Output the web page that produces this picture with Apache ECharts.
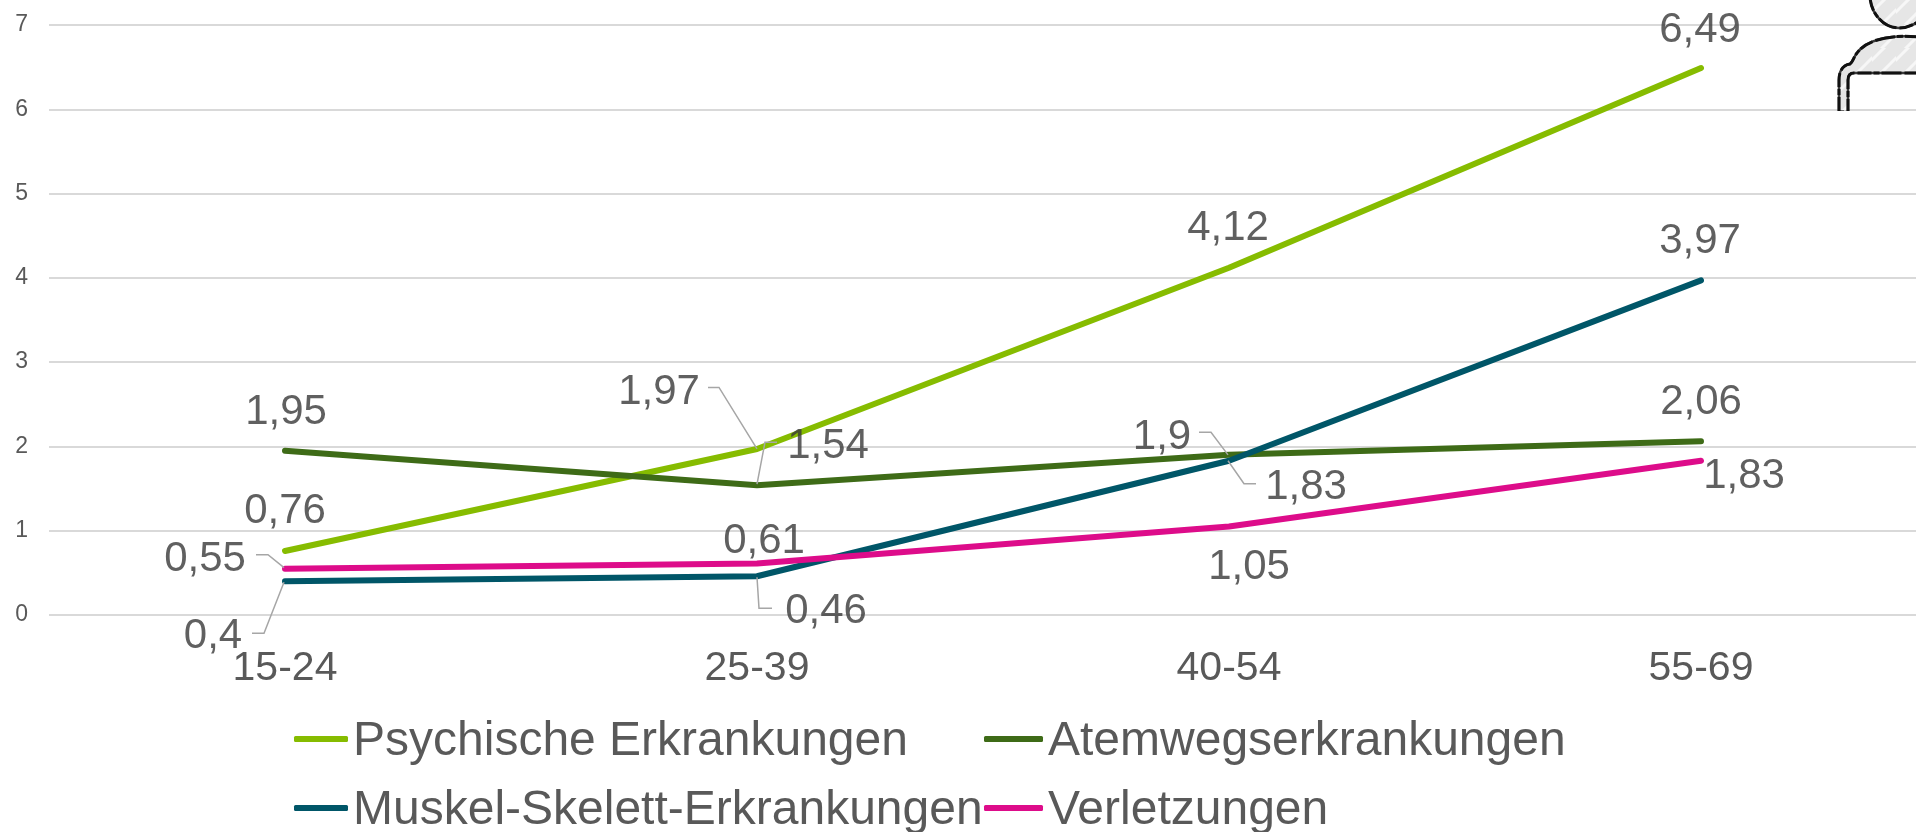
<!DOCTYPE html>
<html>
<head>
<meta charset="utf-8">
<style>html,body{margin:0;padding:0;background:#fff}#chart{width:1916px;height:832px}</style>
<script src="https://cdn.jsdelivr.net/npm/echarts@6/dist/echarts.min.js"></script>
</head>
<body>
<div id="chart"></div>
<script>
const categories = ['15-24', '25-39', '40-54', '55-69'];
const seriesNames = ['Psychische Erkrankungen', 'Atemwegserkrankungen', 'Muskel-Skelett-Erkrankungen', 'Verletzungen'];
const psychische = [0.76, 1.97, 4.12, 6.49];
const atemwege = [1.95, 1.54, 1.9, 2.06];
const muskel = [0.4, 0.46, 1.83, 3.97];
const verletzungen = [0.55, 0.61, 1.05, 1.83];
const seriesColors = ['#86bc00', '#3e6b17', '#005668', '#dd0c8a'];

// Label offsets in pixels from each point's centre, per series and category.
const labelOffsets = [
  [[0, -39.5], [-98, -57], [-1, -39], [-1, -38]],
  [[1, -38.5], [71, -38.5], [-67, -17.5], [0, -38.5]],
  [[-72, 55.5], [69, 35.5], [77, 26.5], [-1, -39]],
  [[-80, -9.5], [7, -22], [20, 40.5], [43, 15.5]]
];
// Leader polylines as pixel offsets from the point; null where a label has none.
const leaderPaths = [
  [null, [[0, 0], [-38, -61.5], [-49, -61.5]], null, null],
  [null, [[0, -1], [8, -43], [20, -43]], [[-1, 0], [-18, -22.5], [-30, -22.5]], null],
  [[[-1, 1], [-21, 52], [-33, 52]], [[0, 1], [2, 32], [15, 32]], [[-1, 0], [15, 23], [27, 23]], null],
  [[[-1, -1], [-17, -14], [-29, -14]], null, null, null]
];
const allValues = [psychische, atemwege, muskel, verletzungen];

const chart = echarts.init(document.getElementById('chart'));

const lineSeries = seriesNames.map((name, s) => ({
  name,
  type: 'line',
  data: allValues[s],
  symbol: 'none',
  z: 3,
  lineStyle: { color: seriesColors[s], width: 6, cap: 'round', join: 'round' },
  itemStyle: { color: seriesColors[s] }
}));

// Value labels sit on invisible scatter points so each can carry its own offset.
const labelSeries = seriesNames.map((name, s) => ({
  name: name + ' Werte',
  type: 'scatter',
  symbolSize: 1,
  itemStyle: { color: 'transparent' },
  silent: true,
  z: 5,
  data: allValues[s].map((v, i) => ({
    value: [categories[i], v],
    label: {
      show: true,
      position: 'inside',
      offset: labelOffsets[s][i],
      formatter: String(v).replace('.', ','),
      fontFamily: 'Liberation Sans',
      fontSize: 42,
      color: '#383838'
    }
  }))
}));

// Thin grey leaders between displaced labels and their points.
const leaderData = [];
leaderPaths.forEach((row, s) => row.forEach((path, i) => {
  if (path) leaderData.push({ value: [i, allValues[s][i]], path });
}));
const leaderSeries = {
  name: 'Leader',
  type: 'custom',
  silent: true,
  z: 4,
  clip: false,
  data: leaderData.map(d => d.value),
  renderItem(params, api) {
    const item = leaderData[params.dataIndex];
    const origin = api.coord(item.value);
    return {
      type: 'polyline',
      shape: { points: item.path.map(p => [origin[0] + p[0], origin[1] + p[1]]) },
      style: { fill: null, stroke: '#a6a6a6', lineWidth: 1.5 }
    };
  }
};

// Pencil-sketch figure in the top right corner, cut off at the line for 6.
const hatch = document.createElement('canvas');
hatch.width = hatch.height = 24;
const hc = hatch.getContext('2d');
hc.fillStyle = '#e6e6e6';
hc.fillRect(0, 0, 24, 24);
hc.strokeStyle = '#f7f7f7';
hc.lineWidth = 3;
hc.beginPath();
hc.moveTo(-2, 14); hc.lineTo(14, -2);
hc.moveTo(8, 26); hc.lineTo(26, 8);
hc.stroke();

const figurePaths = [
  'M1870 -3 C1871 14 1884 28 1899 28 C1906 28 1912 26 1919 21 L1919 -3 Z',
  'M1919 37 C1890 34 1866 40 1857 53 C1853 58 1853 62 1850 64 C1843 65 1839 71 1839 80 L1839 112 L1848 112 L1848 80 C1848 75 1850 73 1854 73 L1919 73 Z'
];
const figureSeries = {
  name: 'Figur',
  type: 'custom',
  coordinateSystem: 'none',
  silent: true,
  z: 2,
  data: [0],
  renderItem() {
    const shapes = figurePaths.map(pathData => ({
      type: 'path',
      shape: { pathData },
      style: { fill: { image: hatch, repeat: 'repeat' }, stroke: '#3a3a3a', lineWidth: 2.5 }
    }));
    // A broken darker pass over the outline gives the pencil its uneven pressure.
    const pencil = figurePaths.map(pathData => ({
      type: 'path',
      shape: { pathData },
      style: { fill: null, stroke: '#111111', lineWidth: 3, lineDash: [14, 2, 6, 2, 20, 3] }
    }));
    return {
      type: 'group',
      children: shapes.concat(pencil, [{
        // The drawing ends in a clean cut just below the arm.
        type: 'rect',
        shape: { x: 1830, y: 111, width: 30, height: 6 },
        style: { fill: '#ffffff' }
      }])
    };
  }
};

const legendText = {
  fontFamily: 'Liberation Sans',
  fontSize: 48,
  color: '#595959',
  rich: {
    name: {
      fontFamily: 'Liberation Sans',
      fontSize: 48,
      color: '#595959',
      padding: [6, 0, 0, 0]
    }
  }
};
// Two rows and two aligned columns, one legend per entry.
const legends = [
  { col: 294, row: 718, index: 0, keyWidth: 54 },
  { col: 294, row: 787, index: 2, keyWidth: 54 },
  { col: 984, row: 718, index: 1, keyWidth: 59 },
  { col: 984, row: 787, index: 3, keyWidth: 59 }
].map(({ col, row, index, keyWidth }) => ({
  left: col,
  top: row,
  padding: 0,
  itemWidth: keyWidth,
  itemHeight: 6,
  icon: 'roundRect',
  data: [seriesNames[index]],
  formatter: '{name|{name}}',
  textStyle: legendText
}));

chart.setOption({
  animation: false,
  backgroundColor: '#ffffff',
  grid: { left: 49, top: 25, width: 1888, height: 590, outerBoundsMode: 'none' },
  xAxis: {
    type: 'category',
    data: categories,
    boundaryGap: true,
    axisLine: { show: false },
    axisTick: { show: false },
    axisLabel: {
      interval: 0,
      margin: 33,
      fontFamily: 'Liberation Sans',
      fontSize: 41,
      color: '#595959'
    }
  },
  yAxis: {
    type: 'value',
    min: 0,
    max: 7,
    interval: 1,
    axisLine: { show: false },
    axisTick: { show: false },
    splitLine: { lineStyle: { color: '#d9d9d9', width: 2 } },
    axisLabel: {
      margin: 21,
      padding: [2, 0, 0, 0],
      fontFamily: 'Liberation Sans',
      fontSize: 23,
      color: '#595959'
    }
  },
  legend: legends,
  series: [...lineSeries, leaderSeries, figureSeries, ...labelSeries]
});
</script>
</body>
</html>
